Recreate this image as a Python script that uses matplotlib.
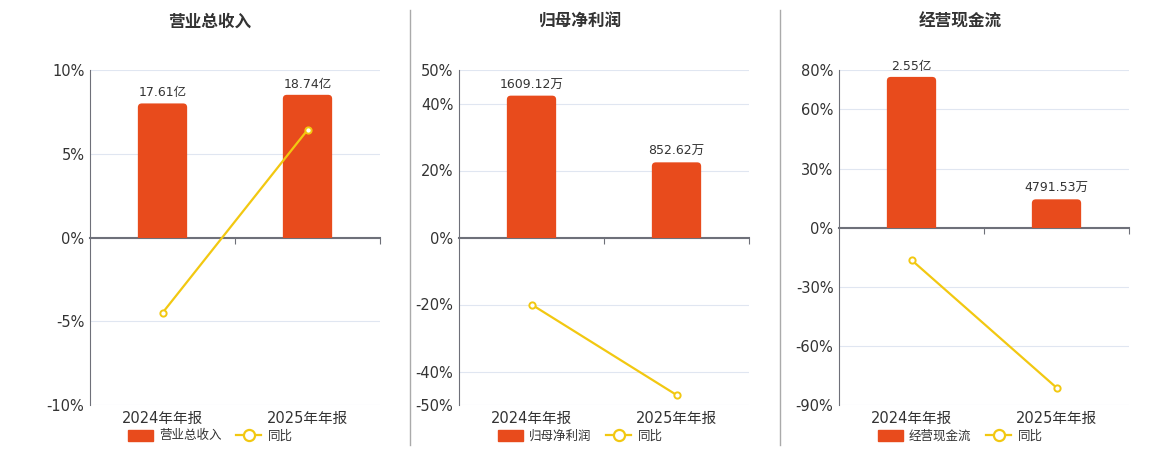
import matplotlib.pyplot as plt
from matplotlib.lines import Line2D
from matplotlib.patches import Patch, FancyBboxPatch, Rectangle

plt.rcParams['font.family'] = ['DejaVu Sans', 'Noto Sans CJK SC']

# 数据
categories = ['2024年年报', '2025年年报']
titles = ['营业总收入', '归母净利润', '经营现金流']
revenue = [17.61, 18.74]          # 亿
revenue_labels = ['17.61亿', '18.74亿']
revenue_yoy = [-4.5, 6.42]
profit = [1609.12, 852.62]        # 万
profit_labels = ['1609.12万', '852.62万']
profit_yoy = [-20.0, -47.0]
cash = [2.55, 0.479153]           # 亿
cash_labels = ['2.55亿', '4791.53万']
cash_yoy = [-16.4, -81.2]

panels = [
    dict(title=titles[0], bars=revenue, labels=revenue_labels, yoy=revenue_yoy,
         pct_lim=(-10, 10), pct_ticks=[-10, -5, 0, 5, 10], bar_lim=(-22, 22),
         left=90, center=210),
    dict(title=titles[1], bars=profit, labels=profit_labels, yoy=profit_yoy,
         pct_lim=(-50, 50), pct_ticks=[-50, -40, -20, 0, 20, 40, 50], bar_lim=(-1900, 1900),
         left=459, center=580),
    dict(title=titles[2], bars=cash, labels=cash_labels, yoy=cash_yoy,
         pct_lim=(-90, 80), pct_ticks=[-90, -60, -30, 0, 30, 60, 80], bar_lim=(-3.0, 8 / 3),
         left=839, center=960),
]

BAR = '#E84B1C'
LINE = '#F2C811'
AXIS = '#6E7079'
GRID = '#E0E6F1'
TEXT = '#333333'

W, H = 1160, 450
AX_W, AX_H = 290, 335
fig = plt.figure(figsize=(W / 100, H / 100), dpi=100)

for p in panels:
    ax = fig.add_axes([p['left'] / W, 1 - 405 / H, AX_W / W, AX_H / H])
    ax.set_xlim(-0.5, 1.5)
    ax.set_ylim(*p['pct_lim'])
    ax.set_yticks(p['pct_ticks'])
    ax.set_yticklabels([f'{t}%' for t in p['pct_ticks']])
    ax.grid(axis='y', color=GRID, lw=0.8)
    ax.set_axisbelow(True)
    ax.tick_params(axis='y', length=0, labelsize=10.5, labelcolor=TEXT, pad=4)
    for s in ['top', 'right']:
        ax.spines[s].set_visible(False)
    ax.spines['left'].set_color(AXIS)
    ax.spines['bottom'].set_position(('data', 0))
    ax.spines['bottom'].set_color(AXIS)
    ax.spines['bottom'].set_linewidth(1.5)
    ax.set_xticks([0.5, 1.5])
    ax.set_xticklabels([])
    ax.tick_params(axis='x', length=4, color=AXIS, direction='out')

    sec = ax.secondary_xaxis('bottom')
    sec.set_xticks([0, 1])
    sec.set_xticklabels(categories)
    sec.tick_params(length=0, labelsize=10.5, labelcolor=TEXT, pad=4)
    sec.spines['bottom'].set_visible(False)

    # 柱子 (隐藏的副轴), 圆角顶部
    axb = ax.twinx()
    axb.set_ylim(*p['bar_lim'])
    axb.axis('off')
    bars = axb.bar([0, 1], p['bars'], width=0.34, color=BAR)
    lo, hi = p['bar_lim']
    r = 4 * 2 / AX_W
    asp = ((hi - lo) / AX_H) / (2 / AX_W)
    clip = Rectangle((-0.5, 0), 2, hi, transform=axb.transData)
    for b in bars:
        b.set_visible(False)
        rb = FancyBboxPatch((b.get_x(), -r * asp), b.get_width(), b.get_height() + r * asp,
                            boxstyle=f'round,pad=0,rounding_size={r}', mutation_aspect=asp,
                            facecolor=BAR, edgecolor='none')
        axb.add_patch(rb)
        rb.set_clip_path(clip)
    axb.bar_label(bars, labels=p['labels'], padding=3, fontsize=9, color=TEXT)

    # 同比折线
    axl = ax.twinx()
    axl.set_ylim(*p['pct_lim'])
    axl.axis('off')
    axl.plot([0, 1], p['yoy'], color=LINE, lw=1.6, marker='o', ms=4.5,
             mfc='white', mec=LINE, mew=1.4)

    fig.text(p['center'] / W, 1 - 22 / H, p['title'], ha='center', va='center',
             fontsize=12, fontweight='bold', color=TEXT, family='Noto Sans CJK SC')

    handles = [Patch(facecolor=BAR, edgecolor=BAR, label=p['title']),
               Line2D([], [], color=LINE, lw=1.6, marker='o', ms=8, mfc='white',
                      mec=LINE, mew=1.6, label='同比')]
    fig.legend(handles=handles, loc='center', bbox_to_anchor=(p['center'] / W, 1 - 436 / H),
               ncol=2, frameon=False, fontsize=9, handlelength=2.0, handleheight=1.0,
               columnspacing=1.2, handletextpad=0.5, labelcolor=TEXT)

for x in [410, 780]:
    fig.add_artist(Line2D([x / W, x / W], [1 - 445 / H, 1 - 10 / H],
                          transform=fig.transFigure, color='#AAAAAA', lw=1))

fig.savefig('out.png', dpi=100)
